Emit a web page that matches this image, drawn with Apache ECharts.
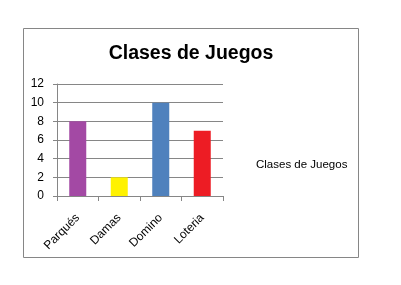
<!DOCTYPE html>
<html><head><meta charset="utf-8">
<script src="https://cdn.jsdelivr.net/npm/echarts@6/dist/echarts.min.js"></script>
<style>html,body{margin:0;padding:0;background:#fff}#c{width:401px;height:285px}</style>
</head><body><div id="c"></div>
<script>
const title = 'Clases de Juegos';
const seriesName = 'Clases de Juegos';
const categories = ['Parqués', 'Damas', 'Domino', 'Loteria'];
const values = [8, 2, 10, 7];
const barColors = ['#A349A4', '#FFF200', '#4F81BD', '#ED1C24'];
const yTicks = { min: 0, max: 12, interval: 2 };

const FONT = '"Liberation Sans", Arial, sans-serif';
const chart = echarts.init(document.getElementById('c'), null, { renderer: 'canvas' });
chart.setOption({
  animation: false,
  backgroundColor: '#fff',
  title: {
    text: title, left: 191, top: 44, textAlign: 'center', padding: 0,
    textStyle: { fontFamily: FONT, fontWeight: 'bold', fontSize: 19.5, color: '#000' }
  },
  legend: {
    left: 251, top: 159, padding: 0, itemWidth: 0, itemHeight: 0, itemGap: 0,
    data: [{ name: seriesName, icon: 'none' }],
    textStyle: { fontFamily: FONT, fontSize: 11.5, color: '#000', padding: 0 },
    selectedMode: false
  },
  graphic: [{
    type: 'rect', shape: { x: 23.5, y: 28.5, width: 335, height: 229 },
    style: { fill: 'none', stroke: '#868686', lineWidth: 1 }, silent: true, z: -1
  }],
  grid: { left: 57, right: 178, top: 84, bottom: 89 },
  xAxis: {
    type: 'category', data: categories,
    axisLine: { lineStyle: { color: '#868686' } },
    axisTick: { show: true, alignWithLabel: false, length: 5, lineStyle: { color: '#868686' } },
    axisLabel: { rotate: 45, fontFamily: FONT, fontSize: 12, color: '#000', margin: 20 }
  },
  yAxis: {
    type: 'value', min: yTicks.min, max: yTicks.max, interval: yTicks.interval,
    axisLine: { show: true, lineStyle: { color: '#868686' } },
    axisTick: { show: true, length: 4, lineStyle: { color: '#868686' } },
    splitLine: { lineStyle: { color: '#868686' } },
    axisLabel: { fontFamily: FONT, fontSize: 12, color: '#000', margin: 13 }
  },
  series: [{
    name: seriesName, type: 'bar', barWidth: '41%',
    data: values.map((v, i) => ({ value: v, itemStyle: { color: barColors[i] } }))
  }]
});
</script></body></html>
